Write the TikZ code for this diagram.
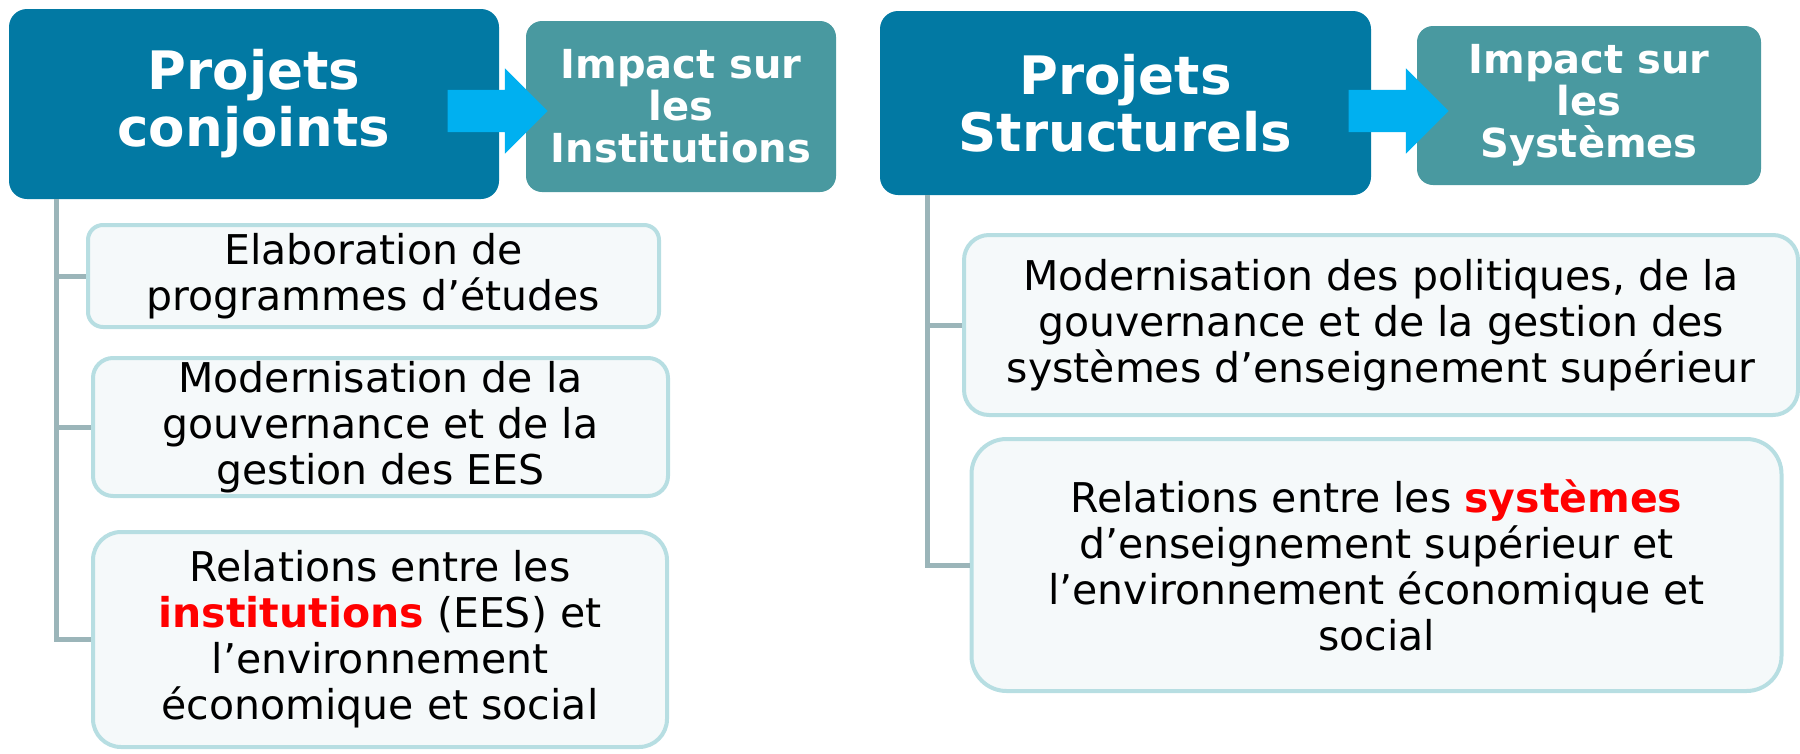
\documentclass[tikz,border=0pt]{standalone}
\usepackage{fontspec}
\setmainfont{DejaVu Sans}
\usetikzlibrary{shapes.arrows}
\definecolor{projblue}{RGB}{2,121,163}
\definecolor{impactteal}{RGB}{73,153,160}
\definecolor{arrowcyan}{RGB}{0,176,240}
\definecolor{itemline}{RGB}{183,222,226}
\definecolor{itemfill}{RGB}{245,249,250}
\definecolor{treeline}{RGB}{155,181,185}
\begin{document}
\begin{tikzpicture}[x=1pt,y=1pt,
  proj/.style={fill=projblue, text=white, rounded corners=18pt, inner sep=0pt, align=center, font=\bfseries\fontsize{53}{57}\selectfont},
  impact/.style={fill=impactteal, text=white, rounded corners=16pt, inner sep=0pt, align=center, font=\bfseries\fontsize{40}{42}\selectfont},
  item/.style={draw=itemline, line width=4pt, fill=itemfill, inner sep=0pt, align=center, font=\fontsize{41}{46}\selectfont},
  bigarrow/.style={single arrow, fill=arrowcyan, inner sep=0pt, minimum height=100pt, single arrow head extend=21.5pt, text height=42pt, text depth=0pt},
  tree/.style={draw=treeline, line width=5pt}]
\useasboundingbox (0,0) rectangle (1800,-753);
\begin{scope}
\node[proj, minimum width=490pt, minimum height=190pt] (A) at (254,-104) {Projets\\conjoints};
\node[impact, minimum width=310pt, minimum height=171pt] (B) at (681,-106.5) {Impact sur\\les\\Institutions};
\node[bigarrow] (arrA) at (487,-111) {};
\node[item, minimum width=571pt, minimum height=102pt, rounded corners=15pt] (L1) at (373.5,-276) {Elaboration de\\programmes d’études};
\node[item, minimum width=575pt, minimum height=138pt, rounded corners=20pt] (L2) at (380.5,-427) {Modernisation de la\\gouvernance et de la\\gestion des EES};
\node[item, minimum width=574pt, minimum height=215pt, rounded corners=28pt] (L3) at (380,-639.5) {Relations entre les\\\textcolor{red}{\textbf{institutions}} (EES) et\\l’environnement\\économique et social};
\coordinate (tA) at (56,-199);
\path[tree] (tA) |- (L1.west);
\path[tree] (tA) |- (L2.west);
\path[tree] (tA) |- (L3.west);
\end{scope}
\begin{scope}
\node[proj, minimum width=491pt, minimum height=184pt] (C) at (1125.5,-103) {Projets\\Structurels};
\node[impact, minimum width=344pt, minimum height=159pt] (D) at (1589,-105.5) {Impact sur\\les\\Systèmes};
\node[bigarrow] (arrC) at (1388,-111) {};
\node[item, minimum width=834pt, minimum height=180pt, rounded corners=25pt] (R1) at (1381,-325) {Modernisation des politiques, de la\\gouvernance et de la gestion des\\systèmes d’enseignement supérieur};
\node[item, minimum width=810pt, minimum height=252pt, rounded corners=35pt] (R2) at (1376.5,-565) {Relations entre les \textcolor{red}{\textbf{systèmes}}\\d’enseignement supérieur et\\l’environnement économique et\\social};
\coordinate (tC) at (927,-195);
\path[tree] (tC) |- (R1.west);
\path[tree] (tC) |- (R2.west);
\end{scope}
\end{tikzpicture}
\end{document}
